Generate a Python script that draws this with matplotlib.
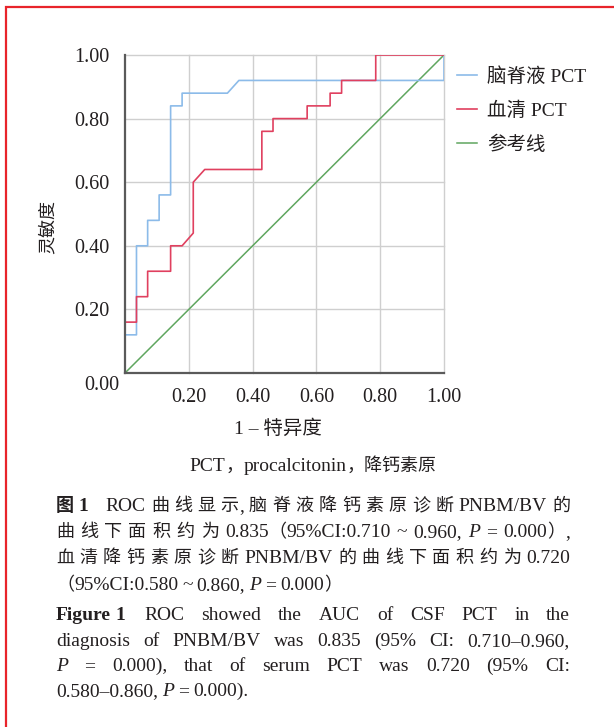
import matplotlib
matplotlib.use('Agg')
import matplotlib.pyplot as plt
from matplotlib.patches import Rectangle
from matplotlib.transforms import IdentityTransform

W, H, DPI = 614, 727, 100
LATIN = 'Liberation Serif'
CJK = 'Noto Sans CJK SC'
TXT = '#231f20'

# ---- data (1 - specificity, sensitivity) ----
csf_fpr = [0, 0, 0.036, 0.036, 0.071, 0.071, 0.107, 0.107, 0.143, 0.143,
           0.179, 0.179, 0.321, 0.357, 1.0, 1.0]
csf_tpr = [0, 0.12, 0.12, 0.40, 0.40, 0.48, 0.48, 0.56, 0.56, 0.84,
           0.84, 0.88, 0.88, 0.92, 0.92, 1.0]
serum_fpr = [0, 0, 0.036, 0.036, 0.071, 0.071, 0.143, 0.143, 0.179, 0.214,
             0.214, 0.25, 0.429, 0.429, 0.464, 0.464, 0.571, 0.571, 0.643,
             0.643, 0.679, 0.679, 0.786, 0.786, 1.0]
serum_tpr = [0, 0.16, 0.16, 0.24, 0.24, 0.32, 0.32, 0.40, 0.40, 0.44,
             0.60, 0.64, 0.64, 0.76, 0.76, 0.80, 0.80, 0.84, 0.84,
             0.88, 0.88, 0.92, 0.92, 1.0, 1.0]
ref_x = [0, 1]
ref_y = [0, 1]
series_labels = ['脑脊液 PCT', '血清 PCT', '参考线']
tick_vals = [0.2, 0.4, 0.6, 0.8, 1.0]
tick_labels = ['0.20', '0.40', '0.60', '0.80', '1.00']
origin_label = '0.00'
x_title = '1 – 特异度'
y_title = '灵敏度'
note = 'PCT，procalcitonin，降钙素原'

cn_lines = [
    (['*图', '*1'], 'ROC 曲 线 显 示, 脑 脊 液 降 钙 素 原 诊 断 PNBM/BV 的', True),
    ([], '曲 线 下 面 积 约 为 0.835（95%CI:0.710 ~ 0.960, _P = 0.000）,', True),
    ([], '血 清 降 钙 素 原 诊 断 PNBM/BV 的 曲 线 下 面 积 约 为 0.720', True),
    ([], '（95%CI:0.580 ~ 0.860, _P = 0.000）', False),
]
en_lines = [
    (['*Figure', '*1'], 'ROC showed the AUC of CSF PCT in the', True),
    ([], 'diagnosis of PNBM/BV was 0.835 (95% CI: 0.710–0.960,', True),
    ([], '_P = 0.000), that of serum PCT was 0.720 (95% CI:', True),
    ([], '0.580–0.860, _P = 0.000).', False),
]

fig = plt.figure(figsize=(W / DPI, H / DPI), dpi=DPI)
fig.patch.set_facecolor('white')
ax = fig.add_axes([125 / W, 1 - 373 / H, 319 / W, 318 / H])

l3, = ax.plot(ref_x, ref_y, color='#5fa65f', lw=1.1, zorder=2)
l1, = ax.plot(csf_fpr, csf_tpr, color='#8cbbe9', lw=1.2, zorder=3)
l2, = ax.plot(serum_fpr, serum_tpr, color='#e0405f', lw=1.2, zorder=4)

ax.set_xlim(0, 1)
ax.set_ylim(0, 1)
ax.set_xticks(tick_vals)
ax.set_xticklabels(tick_labels)
ax.set_yticks(tick_vals)
ax.set_yticklabels(tick_labels)
ax.tick_params(length=0, labelsize=14.5, colors=TXT)
ax.tick_params(axis='y', pad=11)
ax.tick_params(axis='x', pad=11)
for lab in ax.get_xticklabels() + ax.get_yticklabels():
    lab.set_family(LATIN)
ax.grid(True, color='#cfcfcf', lw=1.0)
for g in ax.get_xgridlines() + ax.get_ygridlines():
    g.set_clip_on(False)
ax.set_axisbelow(True)
for s in ['top', 'right']:
    ax.spines[s].set_visible(False)
for s in ['left', 'bottom']:
    ax.spines[s].set_color('#5a5a5a')
    ax.spines[s].set_linewidth(1.6)
    ax.spines[s].set_zorder(5)

ax.text(-0.072, -0.04, origin_label, transform=ax.transAxes, ha='center', va='center',
        fontsize=14.5, family=LATIN, color=TXT)

ax.set_xlabel(x_title, fontsize=14, family=[LATIN, CJK], color=TXT)
ax.xaxis.set_label_coords(0.48, -0.145)
ax.set_ylabel(y_title, fontsize=13, family=CJK, color=TXT)
ax.yaxis.set_label_coords(-0.215, 0.46)

leg = fig.legend([l1, l2, l3], series_labels, loc='upper left',
                 bbox_to_anchor=(457 / W, 1 - 67 / H), frameon=False,
                 prop={'family': [LATIN, CJK], 'size': 14},
                 handlelength=1.05, handletextpad=0.5, labelspacing=0.8,
                 borderpad=0, borderaxespad=0)
for t in leg.get_texts():
    t.set_color(TXT)

# red frame (only left and top edges fall inside the image)
fig.add_artist(Rectangle((6, -20), 800, 740, transform=IdentityTransform(),
                         fill=False, ec='#e8242b', lw=1.6))

renderer = fig.canvas.get_renderer()


def is_cjk(ch):
    return ord(ch) >= 0x2E80


def make_segments(tok):
    style = 'n'
    if tok.startswith('*'):
        style, tok = 'b', tok[1:]
    elif tok.startswith('_'):
        style, tok = 'i', tok[1:]
    segs, cur, cur_c = [], '', None
    for ch in tok:
        c = is_cjk(ch)
        if cur and c != cur_c:
            segs.append((cur, cur_c))
            cur = ''
        cur += ch
        cur_c = c
    if cur:
        segs.append((cur, cur_c))
    return [(t, c, style) for t, c in segs]


def draw_group(tok, lat, cjk):
    texts, widths = [], []
    for s, c, style in make_segments(tok):
        t = fig.text(0, 0, s, transform=IdentityTransform(), ha='left', va='baseline',
                     color=TXT, family=CJK if c else LATIN,
                     fontsize=cjk if c else lat,
                     fontweight='bold' if style == 'b' else 'normal',
                     fontstyle='italic' if style == 'i' else 'normal')
        texts.append(t)
        widths.append(t.get_window_extent(renderer).width)
    return texts, widths


def place(texts, widths, x, yb):
    for t, w in zip(texts, widths):
        t.set_position((x, yb))
        x += w
    return x


def layout(prefix, body, justify, x0, x1, ycenter, lat, cjk, pad, space):
    yb = H - (ycenter + 6)
    x = x0
    for tok in prefix:
        tx, ws = draw_group(tok, lat, cjk)
        x = place(tx, ws, x, yb) + 4
    if prefix:
        x += pad
    groups = [draw_group(tok, lat, cjk) for tok in body.split(' ')]
    total = sum(sum(ws) for _, ws in groups)
    n = len(groups)
    gap = (x1 - x - total) / (n - 1) if (justify and n > 1) else space
    for tx, ws in groups:
        x = place(tx, ws, x, yb) + gap


X0, X1 = 56, 570
for (pre, body, just), yc in zip(cn_lines, [505, 531, 557, 584]):
    layout(pre, body, just, X0, X1, yc, 14, 13, 14, 4)
for (pre, body, just), yc in zip(en_lines, [614, 640, 665, 690]):
    layout(pre, body, just, X0, X1, yc, 14, 13, 16, 4)

# note line centered
tx, ws = draw_group(note, 14, 13)
tw = sum(ws)
place(tx, ws, 313 - tw / 2, H - (465 + 6))

fig.savefig('out.png', dpi=DPI, facecolor='white')
